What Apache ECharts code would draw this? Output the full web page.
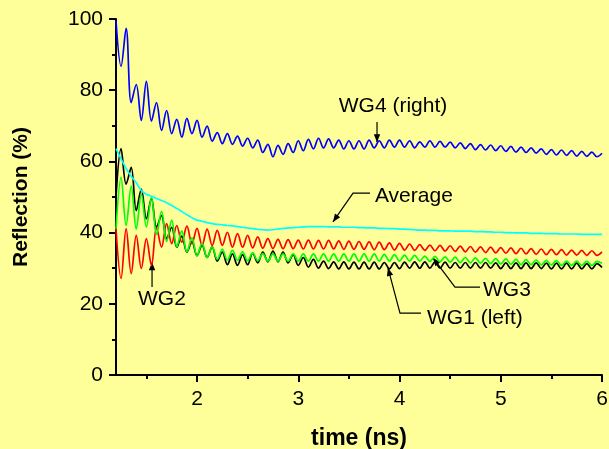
<!DOCTYPE html>
<html><head><meta charset="utf-8">
<script src="https://cdn.jsdelivr.net/npm/echarts@6/dist/echarts.min.js"></script>
<style>html,body{margin:0;padding:0;background:#FFFF99}#c{width:609px;height:449px}</style>
</head><body><div id="c"></div>
<script>
// time (ns)
const time = [
1.20,1.25,1.30,1.35,1.40,1.45,1.50,1.55,1.60,1.65,
1.70,1.75,1.80,1.85,1.90,1.95,2.00,2.05,2.10,2.15,
2.20,2.25,2.30,2.35,2.40,2.45,2.50,2.55,2.60,2.65,
2.70,2.75,2.80,2.85,2.90,2.95,3.00,3.05,3.10,3.15,
3.20,3.25,3.30,3.35,3.40,3.45,3.50,3.55,3.60,3.65,
3.70,3.75,3.80,3.85,3.90,3.95,4.00,4.05,4.10,4.15,
4.20,4.25,4.30,4.35,4.40,4.45,4.50,4.55,4.60,4.65,
4.70,4.75,4.80,4.85,4.90,4.95,5.00,5.05,5.10,5.15,
5.20,5.25,5.30,5.35,5.40,5.45,5.50,5.55,5.60,5.65,
5.70,5.75,5.80,5.85,5.90,5.95,6.00];

const wg4 = [
99.5,86.7,97.4,76.5,81.6,71.5,82.5,71.3,76.5,68.7,
74.3,67.8,71.8,66.8,72.1,67.8,71.5,66.8,69.9,65.7,
68.1,65.0,67.8,64.8,67.1,64.3,66.5,63.8,66.0,62.5,
64.8,61.3,64.5,62.0,65.0,62.5,65.8,63.0,66.2,63.5,
66.5,63.8,66.3,63.8,66.0,63.5,65.8,63.5,65.8,63.5,
66.0,63.8,65.8,63.8,66.0,64.0,66.0,64.0,65.8,63.8,
65.5,64.0,65.8,64.0,65.6,64.0,65.4,63.8,65.2,63.6,
65.0,63.3,64.7,63.2,64.6,63.0,64.4,62.8,64.2,62.6,
64.0,62.5,63.8,62.3,63.5,62.0,63.3,61.8,63.2,61.7,
63.0,61.5,62.8,61.4,62.6,61.3,62.3];

const wg1 = [
50.0,63.6,53.6,58.3,46.2,52.2,43.9,49.6,41.5,44.8,
38.3,41.5,35.9,39.0,34.5,37.5,33.5,36.5,33.0,36.0,
32.0,34.5,31.0,34.0,30.8,33.8,31.0,34.2,31.5,34.5,
31.8,34.8,31.8,34.5,31.5,33.8,30.8,33.0,30.3,32.5,
30.0,32.0,29.9,31.8,29.8,31.8,29.8,31.7,29.8,31.7,
29.8,31.7,29.8,31.6,29.8,31.6,29.9,31.7,30.0,31.8,
30.0,31.8,30.0,31.7,30.0,31.7,30.0,31.6,30.0,31.6,
30.0,31.6,30.0,31.6,30.0,31.5,29.9,31.5,29.9,31.5,
29.9,31.5,29.9,31.5,29.9,31.4,29.8,31.4,29.8,31.4,
29.8,31.4,29.8,31.3,29.8,31.3,30.2];

const wg3 = [
41.0,55.5,42.0,53.0,41.0,50.8,41.6,49.8,39.5,46.0,
37.5,43.5,36.0,40.5,34.5,38.5,33.5,37.0,33.0,36.0,
32.5,35.3,32.3,35.0,32.2,34.6,32.1,34.3,32.1,34.1,
32.0,34.0,32.0,34.0,32.0,34.0,32.0,34.0,32.0,34.0,
32.0,34.0,32.0,34.0,32.0,34.0,32.0,34.0,32.0,34.0,
32.0,34.0,32.0,33.9,32.0,33.8,32.0,33.7,32.0,33.6,
32.0,33.4,31.9,33.3,31.8,33.2,31.7,33.1,31.6,33.0,
31.5,32.9,31.4,32.8,31.3,32.7,31.2,32.6,31.1,32.5,
31.0,32.4,31.0,32.3,30.9,32.2,30.9,32.1,30.8,32.0,
30.8,32.0,30.8,31.9,30.8,31.9,31.4];

const wg2 = [
41.0,27.1,41.1,28.5,39.2,29.9,38.3,30.8,41.5,35.9,
42.5,36.9,42.0,37.3,41.8,36.9,41.2,36.4,41.0,36.4,
40.6,36.4,40.1,35.9,39.7,35.9,39.2,35.7,38.8,35.6,
38.3,35.5,38.1,35.5,38.0,35.5,37.9,35.4,37.9,35.4,
37.8,35.4,37.8,35.4,37.7,35.3,37.6,35.3,37.5,35.3,
37.4,35.2,37.3,35.2,37.1,35.1,37.0,35.1,36.8,35.0,
36.6,35.0,36.5,34.9,36.4,34.8,36.3,34.7,36.2,34.6,
36.1,34.5,36.0,34.4,35.9,34.3,35.8,34.2,35.7,34.1,
35.6,34.0,35.5,33.9,35.4,33.8,35.3,33.8,35.2,33.7,
35.1,33.7,35.0,33.6,34.9,33.6,34.6];

const average = [
63.6,60.7,58.0,55.8,54.0,51.8,50.8,50.2,49.6,49.0,
48.4,47.6,46.8,45.9,45.0,44.2,43.5,43.2,42.8,42.5,
42.3,42.2,42.0,41.9,41.7,41.5,41.3,41.1,40.9,40.8,
40.7,40.8,41.0,41.2,41.3,41.4,41.5,41.6,41.7,41.7,
41.7,41.7,41.6,41.6,41.6,41.5,41.5,41.5,41.4,41.4,
41.3,41.3,41.2,41.2,41.1,41.1,41.0,41.0,40.9,40.8,
40.7,40.7,40.6,40.6,40.5,40.5,40.5,40.4,40.4,40.4,
40.4,40.3,40.3,40.2,40.2,40.1,40.1,40.0,40.0,39.9,
39.9,39.9,39.8,39.8,39.8,39.7,39.7,39.7,39.6,39.6,
39.6,39.6,39.5,39.5,39.5,39.5,39.5];

const xTicks = [2, 3, 4, 5, 6];
const xMinorTicks = [1.5, 2.5, 3.5, 4.5, 5.5];

// annotations in data coordinates: label anchor + leader path (last point = arrow tip)
const annotations = [
  {text: 'WG4 (right)', at: [3.40, 75.6], path: [[3.778, 71.1], [3.778, 65.4]]},
  {text: 'Average', at: [3.758, 50.3], path: [[3.709, 51.1], [3.541, 51.1], [3.343, 43.0]]},
  {text: 'WG3', at: [4.825, 23.9], path: [[4.795, 24.7], [4.548, 24.7], [4.331, 32.9]]},
  {text: 'WG1 (left)', at: [4.272, 15.9], path: [[4.212, 17.4], [4.005, 17.4], [3.886, 30.1]]},
  {text: 'WG2', at: [1.417, 21.3], path: [[1.556, 24.7], [1.556, 31.7]]}
];

const FONT = '"Liberation Sans", Arial, sans-serif';
const mk = (name, vals, color, smooth) => ({
  name, type: 'line', showSymbol: false, symbol: 'none', smooth: smooth,
  data: time.map((t, i) => [t, vals[i]]),
  lineStyle: {color, width: 1.7}, itemStyle: {color}
});

const chart = echarts.init(document.getElementById('c'), null, {renderer: 'canvas'});
chart.setOption({
  backgroundColor: '#FFFF99',
  animation: false,
  grid: {left: 116, right: 7, top: 19, bottom: 74, containLabel: false, outerBoundsMode: 'none'},
  xAxis: [{
    type: 'value', min: 1.2, max: 6,
    axisLine: {show: true, onZero: false, lineStyle: {color: '#000', width: 2}},
    axisTick: {show: true, customValues: xTicks, length: 7, lineStyle: {color: '#000', width: 2}},
    axisLabel: {customValues: xTicks, margin: 14, fontSize: 21, color: '#000', fontFamily: FONT},
    splitLine: {show: false},
    name: 'time (ns)', nameLocation: 'middle', nameGap: 52,
    nameTextStyle: {fontSize: 23, fontWeight: 'bold', color: '#000', fontFamily: FONT}
  }, {
    type: 'value', min: 1.2, max: 6, position: 'bottom',
    axisLine: {show: false, onZero: false},
    axisTick: {show: true, customValues: xMinorTicks, length: 4, lineStyle: {color: '#000', width: 2}},
    axisLabel: {show: false}, splitLine: {show: false}
  }],
  yAxis: {
    type: 'value', min: 0, max: 100, interval: 20,
    axisLine: {show: true, lineStyle: {color: '#000', width: 2}},
    axisTick: {show: true, length: 7, lineStyle: {color: '#000', width: 2}},
    minorTick: {show: true, splitNumber: 2, length: 4, lineStyle: {color: '#000', width: 2}},
    axisLabel: {margin: 13, fontSize: 21, color: '#000', fontFamily: FONT},
    splitLine: {show: false},
    name: 'Reflection (%)', nameLocation: 'middle', nameGap: 84,
    nameTextStyle: {fontSize: 21, fontWeight: 'bold', color: '#000', fontFamily: FONT}
  },
  series: [
    mk('WG1 (left)', wg1, '#000000', 0.35),
    mk('WG2', wg2, '#FF0000', 0.35),
    mk('WG3', wg3, '#00FF00', 0.35),
    mk('Average', average, '#00FFFF', 0.2),
    mk('WG4 (right)', wg4, '#0000FF', 0.35)
  ]
});

const g = [];
annotations.forEach(a => {
  const pts = a.path.map(p => chart.convertToPixel({xAxisIndex: 0, yAxisIndex: 0}, p));
  g.push({type: 'polyline', silent: true, shape: {points: pts}, style: {stroke: '#000', lineWidth: 1.2, fill: null}});
  const tip = pts[pts.length - 1], prev = pts[pts.length - 2];
  const dx = tip[0] - prev[0], dy = tip[1] - prev[1];
  const len = Math.sqrt(dx * dx + dy * dy) || 1;
  const ux = dx / len, uy = dy / len;
  const L = 8, W = 3.2;
  const bx = tip[0] - ux * L, by = tip[1] - uy * L;
  g.push({type: 'polygon', silent: true, shape: {points: [tip, [bx - uy * W, by + ux * W], [bx + uy * W, by - ux * W]]}, style: {fill: '#000'}});
  const tp = chart.convertToPixel({xAxisIndex: 0, yAxisIndex: 0}, a.at);
  g.push({type: 'text', silent: true, x: tp[0], y: tp[1], style: {text: a.text, fontSize: 21, fontFamily: FONT, fill: '#000', align: 'left', verticalAlign: 'middle'}});
});
chart.setOption({graphic: g});
</script>
</body></html>
